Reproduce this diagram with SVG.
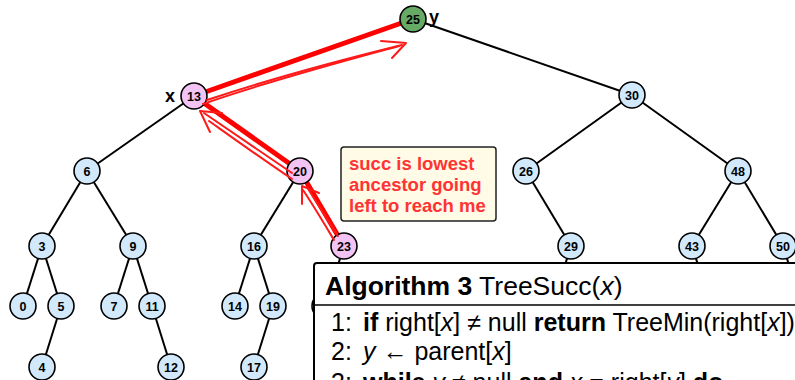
<svg xmlns="http://www.w3.org/2000/svg" width="795" height="380" viewBox="0 0 795 380">
  <style>
    .edge { stroke: #000; stroke-width: 2; fill: none; }
    .hot { stroke: #ff0000; stroke-width: 5; fill: none; stroke-linecap: round; }
    .ink { stroke: #ff1a1a; stroke-width: 2; fill: none; stroke-linecap: round; stroke-linejoin: round; }
    .node circle { stroke: #000; stroke-width: 1.6; fill: #d1e9fb; }
    .node.pink circle { fill: #f3c3f3; }
    .node.green circle { fill: #66aa66; }
    .node text { font-family: "Liberation Sans", Arial, sans-serif; font-weight: bold; font-size: 12.5px; text-anchor: middle; fill: #000; }
    .tag { font-family: "Liberation Sans", Arial, sans-serif; font-weight: bold; font-size: 18px; fill: #000; }
    .note rect { fill: #fffbe6; stroke: #222; stroke-width: 1.5; }
    .note text { font-family: "Liberation Sans", Arial, sans-serif; font-weight: bold; font-size: 18.5px; fill: #ff3333; }
    .algo text { font-family: "Liberation Sans", Arial, sans-serif; fill: #000; }
    .b { font-weight: bold; }
    .i { font-style: italic; }
  </style>

  <!-- tree edges -->
  <g id="edges">
    <line class="edge" x1="413" y1="19" x2="632" y2="95"/>
    <line class="edge" x1="194" y1="96" x2="87" y2="171"/>
    <line class="edge" x1="632" y1="95" x2="526" y2="171"/>
    <line class="edge" x1="632" y1="95" x2="738" y2="171"/>
    <line class="edge" x1="87" y1="171" x2="42" y2="246"/>
    <line class="edge" x1="87" y1="171" x2="133" y2="246"/>
    <line class="edge" x1="300" y1="171" x2="254" y2="246"/>
    <line class="edge" x1="526" y1="171" x2="571" y2="246"/>
    <line class="edge" x1="738" y1="171" x2="692" y2="246"/>
    <line class="edge" x1="738" y1="171" x2="783" y2="246"/>
    <line class="edge" x1="42" y1="246" x2="23" y2="306"/>
    <line class="edge" x1="42" y1="246" x2="61" y2="306"/>
    <line class="edge" x1="133" y1="246" x2="114" y2="306"/>
    <line class="edge" x1="133" y1="246" x2="152" y2="306"/>
    <line class="edge" x1="254" y1="246" x2="235" y2="306"/>
    <line class="edge" x1="254" y1="246" x2="273" y2="306"/>
    <line class="edge" x1="344" y1="246" x2="325" y2="306"/>
    <line class="edge" x1="571" y1="246" x2="552" y2="306"/>
    <line class="edge" x1="692" y1="246" x2="711" y2="306"/>
    <line class="edge" x1="783" y1="246" x2="802" y2="306"/>
    <line class="edge" x1="61" y1="306" x2="42" y2="367"/>
    <line class="edge" x1="152" y1="306" x2="171" y2="367"/>
    <line class="edge" x1="273" y1="306" x2="254" y2="367"/>
    <!-- search path, highlighted -->
    <line class="hot" x1="194" y1="96" x2="413" y2="19"/>
    <line class="hot" x1="194" y1="96" x2="300" y2="171"/>
    <line class="hot" x1="300" y1="171" x2="344" y2="246"/>
  </g>

  <!-- nodes -->
  <g id="n25" class="node green"><circle cx="413" cy="19" r="13"/><text x="413" y="23.5">25</text></g>
  <g id="n13" class="node pink"><circle cx="194" cy="96" r="13"/><text x="194" y="100.5">13</text></g>
  <g id="n30" class="node"><circle cx="632" cy="95" r="13"/><text x="632" y="99.5">30</text></g>
  <g id="n6" class="node"><circle cx="87" cy="171" r="13"/><text x="87" y="175.5">6</text></g>
  <g id="n20" class="node pink"><circle cx="300" cy="171" r="13"/><text x="300" y="175.5">20</text></g>
  <g id="n26" class="node"><circle cx="526" cy="171" r="13"/><text x="526" y="175.5">26</text></g>
  <g id="n48" class="node"><circle cx="738" cy="171" r="13"/><text x="738" y="175.5">48</text></g>
  <g id="n3" class="node"><circle cx="42" cy="246" r="13"/><text x="42" y="250.5">3</text></g>
  <g id="n9" class="node"><circle cx="133" cy="246" r="13"/><text x="133" y="250.5">9</text></g>
  <g id="n16" class="node"><circle cx="254" cy="246" r="13"/><text x="254" y="250.5">16</text></g>
  <g id="n23" class="node pink"><circle cx="344" cy="246" r="13"/><text x="344" y="250.5">23</text></g>
  <g id="n29" class="node"><circle cx="571" cy="246" r="13"/><text x="571" y="250.5">29</text></g>
  <g id="n43" class="node"><circle cx="692" cy="246" r="13"/><text x="692" y="250.5">43</text></g>
  <g id="n50" class="node"><circle cx="783" cy="246" r="13"/><text x="783" y="250.5">50</text></g>
  <g id="n0" class="node"><circle cx="23" cy="306" r="13"/><text x="23" y="310.5">0</text></g>
  <g id="n5" class="node"><circle cx="61" cy="306" r="13"/><text x="61" y="310.5">5</text></g>
  <g id="n7" class="node"><circle cx="114" cy="306" r="13"/><text x="114" y="310.5">7</text></g>
  <g id="n11" class="node"><circle cx="152" cy="306" r="13"/><text x="152" y="310.5">11</text></g>
  <g id="n14" class="node"><circle cx="235" cy="306" r="13"/><text x="235" y="310.5">14</text></g>
  <g id="n19" class="node"><circle cx="273" cy="306" r="13"/><text x="273" y="310.5">19</text></g>
  <g id="n23l" class="node"><circle cx="325" cy="306" r="13"/></g>
  <g id="n4" class="node"><circle cx="42" cy="367" r="13"/><text x="42" y="371.5">4</text></g>
  <g id="n12" class="node"><circle cx="171" cy="367" r="13"/><text x="171" y="371.5">12</text></g>
  <g id="n17" class="node"><circle cx="254" cy="367" r="13"/><text x="254" y="371.5">17</text></g>

  <!-- variable tags -->
  <text class="tag" x="165" y="102">x</text>
  <text class="tag" x="429" y="23">y</text>

  <!-- hand-drawn arrows along the path -->
  <g id="sketch">
    <path class="ink" d="M203,104 C265,82 340,62 399,46"/>
    <path class="ink" d="M207,100 C270,79 345,59 402,45"/>
    <path class="ink" d="M381,41 L406,43 L392,58"/>
    <path class="ink" d="M204,113 L292,173"/>
    <path class="ink" d="M209,121 C240,143 268,163 292,179"/>
    <path class="ink" d="M210,132 L200,111 L222,113"/>
    <path class="ink" d="M303,190 C315,208 325,225 334,240"/>
    <path class="ink" d="M307,187 C318,205 329,222 338,236"/>
    <path class="ink" d="M302,204 L302,186 L319,193"/>
  </g>

  <!-- callout -->
  <g id="note" class="note">
    <rect x="341" y="147" width="155" height="74" rx="3"/>
    <text x="349" y="170">succ is lowest</text>
    <text x="349" y="191">ancestor going</text>
    <text x="349" y="212">left to reach me</text>
  </g>

  <!-- algorithm listing -->
  <g id="algo" class="algo">
    <rect x="314" y="263" width="500" height="140" rx="3" fill="#fff" stroke="#000" stroke-width="2"/>
    <line x1="314" y1="305" x2="800" y2="305" stroke="#000" stroke-width="1.5"/>
    <text x="325" y="295" font-size="26.5"><tspan class="b">Algorithm 3</tspan> TreeSucc(<tspan class="i">x</tspan>)</text>
    <text x="331" y="331" font-size="25">1:</text>
    <text x="363" y="331" font-size="25"><tspan class="b">if</tspan> right[<tspan class="i">x</tspan>] ≠ null <tspan class="b">return</tspan> TreeMin(right[<tspan class="i">x</tspan>])</text>
    <text x="331" y="360" font-size="25">2:</text>
    <text x="363" y="360" font-size="25"><tspan class="i">y</tspan> ← parent[<tspan class="i">x</tspan>]</text>
    <text x="331" y="391" font-size="25">3:</text>
    <text x="363" y="391" font-size="25"><tspan class="b">while</tspan> <tspan class="i">y</tspan> ≠ null <tspan class="b">and</tspan> <tspan class="i">x</tspan> = right[<tspan class="i">y</tspan>] <tspan class="b">do</tspan></text>
  </g>
</svg>
